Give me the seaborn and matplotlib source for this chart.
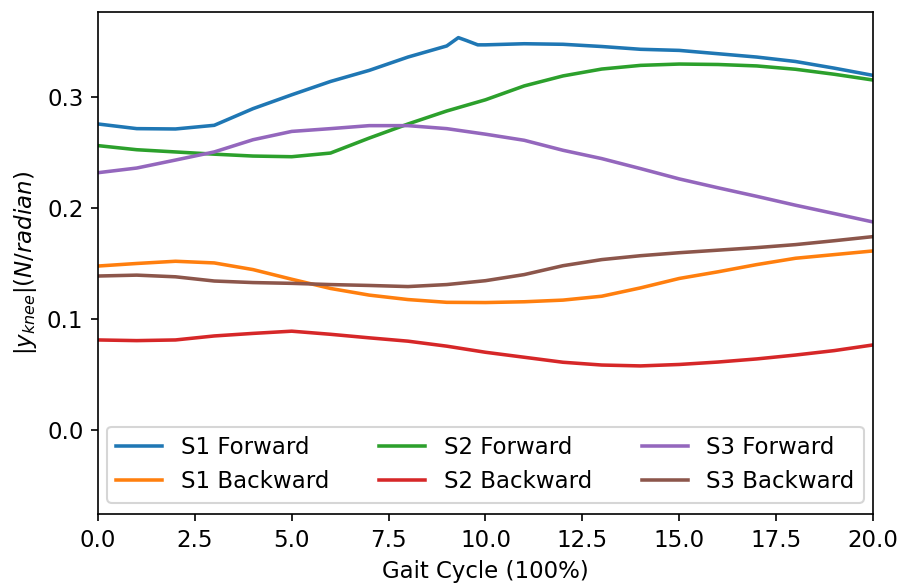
import numpy as np
import pandas as pd
import matplotlib
matplotlib.use("Agg")
import matplotlib.pyplot as plt
import seaborn as sns

x_common = list(range(0, 21))

s1_forward_x = [0, 1, 2, 3, 4, 5, 6, 7, 8, 9, 9.3, 9.5, 9.8, 10, 11, 12, 13, 14, 15, 16, 17, 18, 19, 20]
s1_forward = [0.2757, 0.2715, 0.2712, 0.2745, 0.2895, 0.302, 0.314, 0.324, 0.336, 0.346, 0.3535, 0.351,
              0.347, 0.347, 0.348, 0.3475, 0.3455, 0.343, 0.342, 0.339, 0.336, 0.332, 0.326, 0.3195]
s1_backward = [0.1477, 0.150, 0.152, 0.1505, 0.1445, 0.1358, 0.1275, 0.1215, 0.1175, 0.115, 0.1148,
               0.1155, 0.117, 0.1205, 0.128, 0.1365, 0.1425, 0.149, 0.1547, 0.158, 0.1613]
s2_forward = [0.2562, 0.2525, 0.2505, 0.2485, 0.2468, 0.2462, 0.2495, 0.2630, 0.2757, 0.2874, 0.2975,
              0.310, 0.319, 0.3252, 0.3285, 0.3297, 0.3293, 0.328, 0.325, 0.3205, 0.3153]
s2_backward = [0.0811, 0.0805, 0.0811, 0.0847, 0.087, 0.089, 0.0862, 0.083, 0.080, 0.0755, 0.070,
               0.0655, 0.061, 0.0585, 0.0577, 0.059, 0.0612, 0.064, 0.0675, 0.0715, 0.0766]
s3_forward = [0.2318, 0.236, 0.2432, 0.2505, 0.2615, 0.269, 0.2715, 0.2742, 0.2742, 0.2715, 0.2665,
              0.261, 0.252, 0.2445, 0.2355, 0.2262, 0.2182, 0.2105, 0.2025, 0.195, 0.1874]
s3_backward = [0.1387, 0.1395, 0.138, 0.1342, 0.1328, 0.1321, 0.131, 0.1302, 0.1292, 0.131, 0.1345,
               0.140, 0.148, 0.1535, 0.157, 0.1597, 0.162, 0.1643, 0.167, 0.1705, 0.1742]

labels = ["S1 Forward", "S1 Backward", "S2 Forward", "S2 Backward", "S3 Forward", "S3 Backward"]
series = [(s1_forward_x, s1_forward), (x_common, s1_backward), (x_common, s2_forward),
          (x_common, s2_backward), (x_common, s3_forward), (x_common, s3_backward)]

frames = []
for lab, (xs, ys) in zip(labels, series):
    frames.append(pd.DataFrame({"x": xs, "y": ys, "series": lab}))
df = pd.concat(frames, ignore_index=True)

plt.rcParams["font.family"] = ["DejaVu Sans"]

fig = plt.figure(figsize=(904 / 150, 588 / 150), dpi=150)
ax = fig.add_axes([0.1084, 0.1259, 0.9657 - 0.1084, 0.9796 - 0.1259])
sns.lineplot(data=df, x="x", y="y", hue="series", hue_order=labels,
             palette=sns.color_palette("tab10", 6), linewidth=1.7, ax=ax, sort=True)

ax.set_xlim(0, 20)
ax.set_ylim(-0.0757, 0.3766)
ax.set_yticks([0.0, 0.1, 0.2, 0.3])
ax.set_xticks(np.arange(0, 20.01, 2.5))
ax.set_xlabel("Gait Cycle (100%)", fontsize=11)
ax.set_ylabel(r"$|y_{knee}| (N/radian)$", fontsize=11)
ax.tick_params(labelsize=11)
ax.legend(loc="lower center", ncol=3, fontsize=11, frameon=True, columnspacing=2.2)

fig.savefig("out.png", dpi=150)
